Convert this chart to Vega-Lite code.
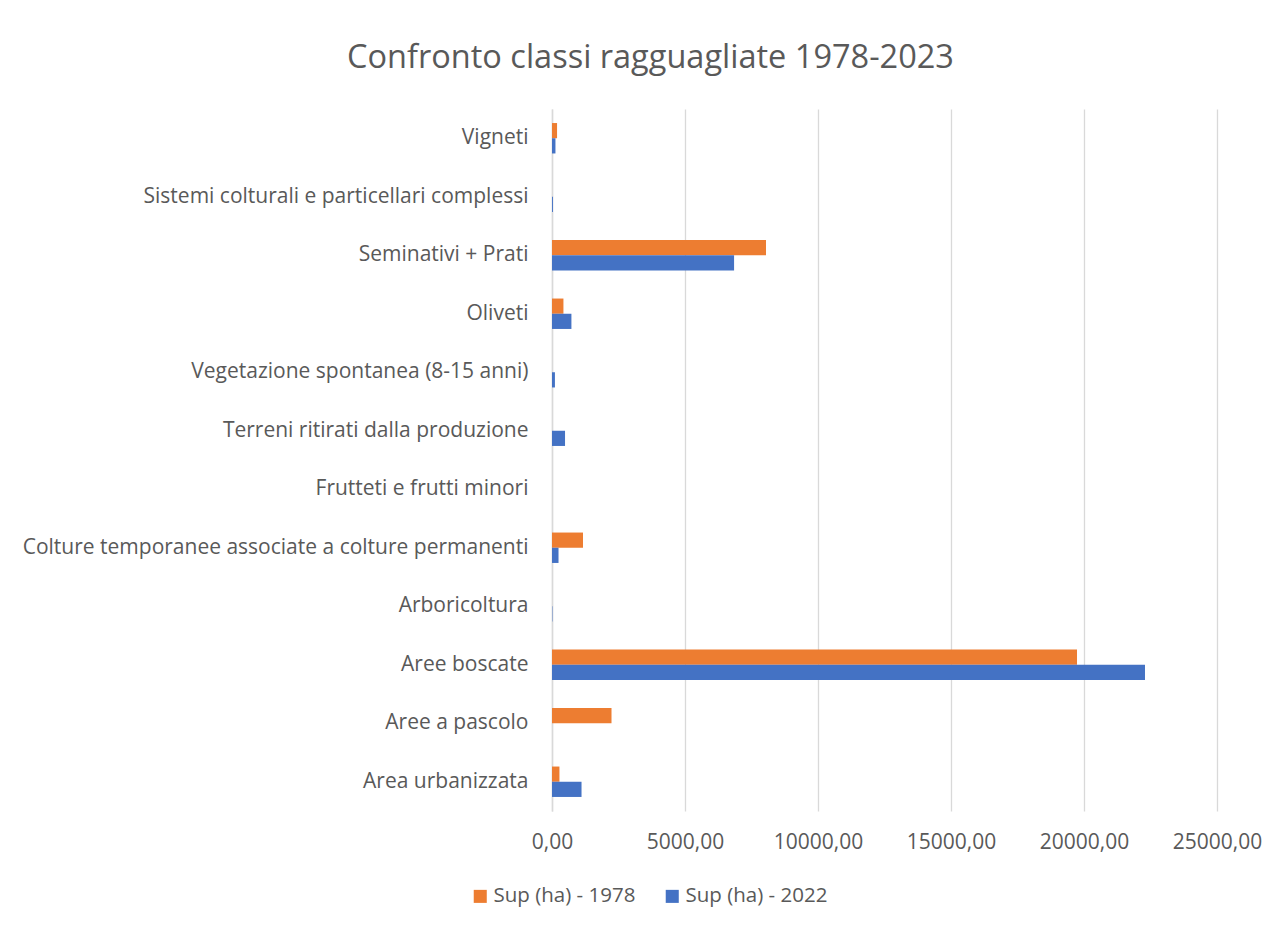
{
  "$schema": "https://vega.github.io/schema/vega-lite/v6.json",
  "autosize": {"type": "none"},
  "width": 665,
  "height": 702,
  "padding": {"left": 552, "top": 109, "right": 65, "bottom": 115},
  "background": "white",
  "title": {
    "text": "Confronto classi ragguagliate 1978-2023",
    "font": "Open Sans",
    "fontSize": 32.5,
    "fontWeight": "normal",
    "color": "#595959",
    "anchor": "middle",
    "frame": "group",
    "dx": -234,
    "offset": 35
  },
  "data": {
    "values": [
      {"classe": "Vigneti", "serie": "Sup (ha) - 1978", "sup": 190},
      {"classe": "Vigneti", "serie": "Sup (ha) - 2022", "sup": 130},
      {"classe": "Sistemi colturali e particellari complessi", "serie": "Sup (ha) - 1978", "sup": 0},
      {"classe": "Sistemi colturali e particellari complessi", "serie": "Sup (ha) - 2022", "sup": 35},
      {"classe": "Seminativi + Prati", "serie": "Sup (ha) - 1978", "sup": 8045},
      {"classe": "Seminativi + Prati", "serie": "Sup (ha) - 2022", "sup": 6845},
      {"classe": "Oliveti", "serie": "Sup (ha) - 1978", "sup": 430},
      {"classe": "Oliveti", "serie": "Sup (ha) - 2022", "sup": 730},
      {"classe": "Vegetazione spontanea (8-15 anni)", "serie": "Sup (ha) - 1978", "sup": 0},
      {"classe": "Vegetazione spontanea (8-15 anni)", "serie": "Sup (ha) - 2022", "sup": 110},
      {"classe": "Terreni ritirati dalla produzione", "serie": "Sup (ha) - 1978", "sup": 0},
      {"classe": "Terreni ritirati dalla produzione", "serie": "Sup (ha) - 2022", "sup": 490},
      {"classe": "Frutteti e frutti minori", "serie": "Sup (ha) - 1978", "sup": 0},
      {"classe": "Frutteti e frutti minori", "serie": "Sup (ha) - 2022", "sup": 0},
      {"classe": "Colture temporanee associate a colture permanenti", "serie": "Sup (ha) - 1978", "sup": 1165},
      {"classe": "Colture temporanee associate a colture permanenti", "serie": "Sup (ha) - 2022", "sup": 245},
      {"classe": "Arboricoltura", "serie": "Sup (ha) - 1978", "sup": 0},
      {"classe": "Arboricoltura", "serie": "Sup (ha) - 2022", "sup": 15},
      {"classe": "Aree boscate", "serie": "Sup (ha) - 1978", "sup": 19737},
      {"classe": "Aree boscate", "serie": "Sup (ha) - 2022", "sup": 22293},
      {"classe": "Aree a pascolo", "serie": "Sup (ha) - 1978", "sup": 2237},
      {"classe": "Aree a pascolo", "serie": "Sup (ha) - 2022", "sup": 0},
      {"classe": "Area urbanizzata", "serie": "Sup (ha) - 1978", "sup": 280},
      {"classe": "Area urbanizzata", "serie": "Sup (ha) - 2022", "sup": 1110}
    ]
  },
  "mark": {"type": "bar"},
  "encoding": {
    "y": {
      "field": "classe",
      "type": "nominal",
      "sort": null,
      "scale": {"paddingInner": 0.48, "paddingOuter": 0.24},
      "axis": {
        "title": null,
        "ticks": false,
        "domain": true,
        "domainColor": "#d9d9d9",
        "domainWidth": 1.5,
        "labelFont": "Open Sans",
        "labelFontSize": 21,
        "labelColor": "#595959",
        "labelPadding": 24,
        "labelLimit": 600
      }
    },
    "x": {
      "field": "sup",
      "type": "quantitative",
      "scale": {"domain": [0, 25000], "nice": false},
      "axis": {
        "title": null,
        "values": [0, 5000, 10000, 15000, 20000, 25000],
        "labelExpr": "replace(format(datum.value, '.2f'), '.', ',')",
        "ticks": false,
        "domain": false,
        "grid": true,
        "gridColor": "#d9d9d9",
        "gridWidth": 1.3,
        "labelFlush": false,
        "labelOverlap": false,
        "labelFont": "Open Sans",
        "labelFontSize": 21,
        "labelColor": "#595959",
        "labelPadding": 20
      }
    },
    "yOffset": {
      "field": "serie",
      "type": "nominal",
      "sort": ["Sup (ha) - 1978", "Sup (ha) - 2022"],
      "scale": {"paddingInner": 0, "paddingOuter": 0}
    },
    "color": {
      "field": "serie",
      "type": "nominal",
      "scale": {
        "domain": ["Sup (ha) - 1978", "Sup (ha) - 2022"],
        "range": ["#ED7D31", "#4472C4"]
      },
      "legend": {
        "title": null,
        "orient": "none",
        "direction": "horizontal",
        "legendX": -82,
        "legendY": 777,
        "symbolType": "square",
        "symbolSize": 170,
        "symbolStrokeWidth": 0,
        "labelFont": "Open Sans",
        "labelFontSize": 20.5,
        "labelColor": "#595959",
        "labelOffset": 3,
        "columnPadding": 26
      }
    }
  },
  "config": {
    "view": {"stroke": null}
  }
}
